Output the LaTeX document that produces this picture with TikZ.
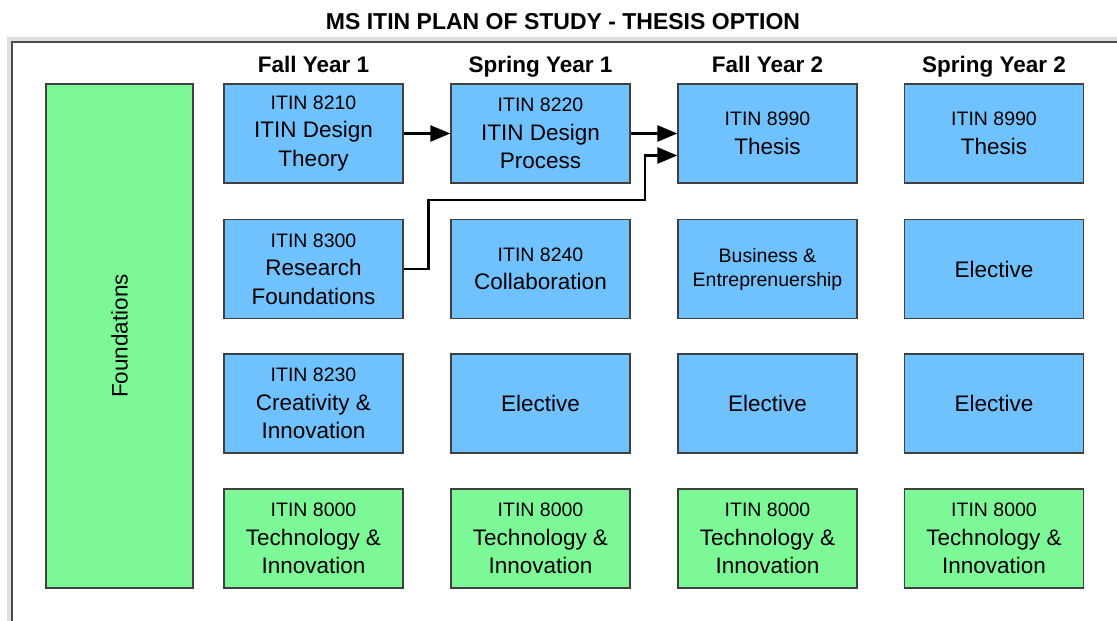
\documentclass[tikz,border=0pt]{standalone}
\usepackage{fontspec}
\setmainfont{Liberation Sans}
\usetikzlibrary{arrows.meta}
\definecolor{courseblue}{RGB}{112,194,255}
\definecolor{coregreen}{RGB}{124,249,150}
\newcommand{\coursenum}[1]{{\fontsize{19.5}{28.5}\selectfont #1}}

\begin{document}
\begin{tikzpicture}[x=1pt, y=-1pt,
    course/.style={rectangle, draw=black!75, line width=1.3pt, fill=courseblue, minimum width=179pt, minimum height=99pt, inner sep=0pt, align=center, font=\fontsize{22.5}{28.5}\selectfont},
    core/.style={course, fill=coregreen},
    term/.style={anchor=base, font=\fontsize{22.5}{27}\selectfont\bfseries},
    flow/.style={-{Triangle[length=20pt,width=16pt]}, line width=2.6pt}]
    \useasboundingbox (0,0) rectangle (1117,621);
    \fill[white] (0,0) rectangle (1117,621);
    % frame
    \draw[black!12, line width=4pt] (9,640) -- (9,39) -- (1130,39);
    \draw[black!70, line width=1.6pt] (12,640) -- (12,42) -- (1130,42);
    \node (title) [anchor=base, font=\fontsize{23}{27}\selectfont\bfseries] at (563,29) {MS ITIN PLAN OF STUDY - THESIS OPTION};
    % terms
    \node (fy1) [term] at (313.5,72) {Fall Year 1};
    \node (sy1) [term] at (540.5,72) {Spring Year 1};
    \node (fy2) [term] at (767.5,72) {Fall Year 2};
    \node (sy2) [term] at (994,72) {Spring Year 2};
    % foundations
    \node (found) [core, rotate=90, minimum width=504pt, minimum height=147pt] at (119.5,336) {Foundations};
    % row 1
    \node (design) [course] at (313.5,133.5) {\coursenum{ITIN 8210}\\ITIN Design\\Theory};
    \node (process) [course] at (540.5,133.5) {\coursenum{ITIN 8220}\\ITIN Design\\Process};
    \node (thesisA) [course] at (767.5,133.5) {\coursenum{ITIN 8990}\\Thesis};
    \node (thesisB) [course] at (994,133.5) {\coursenum{ITIN 8990}\\Thesis};
    % row 2
    \node (research) [course] at (313.5,269) {\coursenum{ITIN 8300}\\Research\\Foundations};
    \node (collab) [course] at (540.5,269) {\coursenum{ITIN 8240}\\Collaboration};
    \node (business) [course, font=\fontsize{19.5}{24}\selectfont] at (767.5,269) {Business \&\\Entreprenuership};
    \node (electA) [course] at (994,269) {Elective};
    % row 3
    \node (creative) [course] at (313.5,403.5) {\coursenum{ITIN 8230}\\Creativity \&\\Innovation};
    \node (electB) [course] at (540.5,403.5) {Elective};
    \node (electC) [course] at (767.5,403.5) {Elective};
    \node (electD) [course] at (994,403.5) {Elective};
    % row 4
    \node (techA) [core] at (313.5,538.5) {\coursenum{ITIN 8000}\\Technology \&\\Innovation};
    \node (techB) [core] at (540.5,538.5) {\coursenum{ITIN 8000}\\Technology \&\\Innovation};
    \node (techC) [core] at (767.5,538.5) {\coursenum{ITIN 8000}\\Technology \&\\Innovation};
    \node (techD) [core] at (994,538.5) {\coursenum{ITIN 8000}\\Technology \&\\Innovation};
    % prerequisites
    \coordinate (bend) at (645,200);
    \coordinate (thesisin) at ([yshift=-22pt]thesisA.west);
    \draw[flow] (design.east) -- (process.west);
    \draw[flow] (process.east) -- (thesisA.west);
    \draw[flow] (research.east) -- ++(25,0) |- (bend) |- (thesisin);
\end{tikzpicture}
\end{document}
